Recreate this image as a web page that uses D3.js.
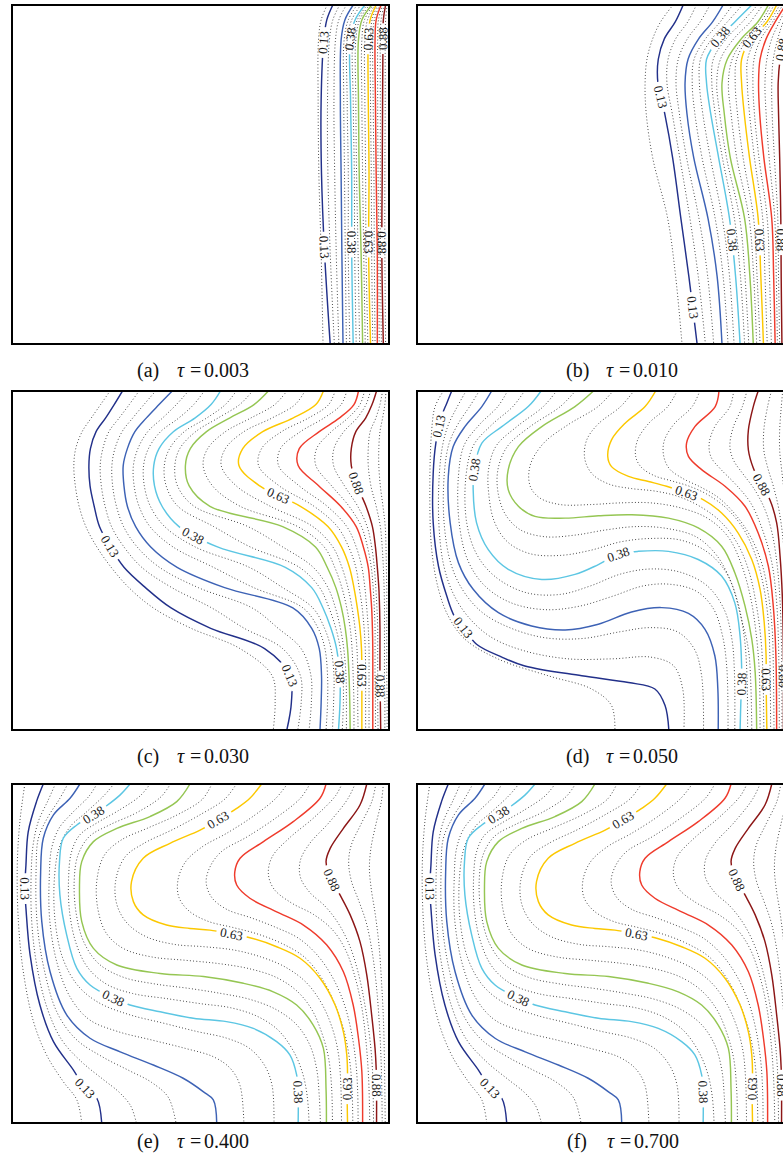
<!DOCTYPE html>
<html><head><meta charset="utf-8">
<script src="https://cdn.jsdelivr.net/npm/d3@7"></script>
<style>body{margin:0;background:#fff}svg{display:block}</style>
</head><body>
<svg id="fig" width="783" height="1158"></svg>
<script>
// ---------- Shared categories ----------
const panelIds   = ['a','b','c','d','e','f'];
const panelTaus  = ['0.003','0.010','0.030','0.050','0.400','0.700'];
const panelLeft  = [12, 417, 12, 417, 12, 417];
const panelTop   = [5, 5, 391, 391, 784, 784];
const captionBase= [377, 377, 763, 763, 1148, 1148];
const captionOff = [125, 149, 125, 149, 125, 150];
const solidLevels = [0.125, 0.25, 0.375, 0.5, 0.625, 0.75, 0.875];
const levelColors = ['#22308a', '#3d62b5', '#5cc6e3', '#95c653', '#fcc800', '#ef3b2c', '#8c1616'];

// ---------- Panel (a): X (% of width) at shared Y (% from top) ----------
const aY = [0, 4.4, 10.3, 28, 50, 73, 100];
const aSolid = [
 [0.125,[85.1,83.5,82.7,82.0,82.1,82.9,84.4]],
 [0.25, [90.5,88.3,87.3,87.1,87.3,87.5,87.8]],
 [0.375,[93.6,91.0,89.7,89.8,90.1,90.1,90.5]],
 [0.5,  [95.4,92.8,91.9,91.9,92.1,92.6,93.0]],
 [0.625,[96.6,95.0,94.5,94.5,94.7,94.6,95.1]],
 [0.75, [97.9,96.6,96.3,96.4,96.6,96.9,96.9]],
 [0.875,[99.1,98.5,98.4,98.3,98.2,98.1,98.5]]];
const aDotted = [
 [0.083,[83.6,82.0,81.3,81.2,81.4,82.0,82.5]],
 [0.167,[86.9,85.1,84.2,83.7,83.8,84.4,85.5]],
 [0.208,[88.7,86.7,85.8,85.4,85.6,86.0,86.7]],
 [0.292,[91.5,89.2,88.1,88.0,88.2,88.4,88.7]],
 [0.333,[92.5,90.1,88.9,88.9,89.2,89.2,89.6]],
 [0.417,[94.2,91.6,90.4,90.5,90.8,90.9,91.3]],
 [0.458,[94.8,92.2,91.2,91.2,91.4,91.8,92.2]],
 [0.542,[95.8,93.5,92.8,92.8,93.0,93.3,93.7]],
 [0.583,[96.2,94.3,93.6,93.6,93.8,93.9,94.4]],
 [0.667,[97.0,95.5,95.1,95.1,95.3,95.4,95.7]],
 [0.708,[97.5,96.1,95.7,95.8,96.0,96.1,96.3]],
 [0.792,[98.3,97.2,97.0,97.0,97.1,97.3,97.4]],
 [0.833,[98.7,97.9,97.7,97.7,97.7,97.7,98.0]],
 [0.917,[99.5,99.1,99.0,99.0,98.9,98.9,99.1]]];
const aLabels = [[0.125,82.6,11],[0.125,83.0,71.4],[0.375,89.7,10],[0.375,90.1,70],
 [0.625,94.5,10],[0.625,94.6,70],[0.875,98.4,10],[0.875,98.1,70]];

// ---------- Panel (b) ----------
const bY = [0, 5, 10, 16, 23, 32, 45, 63, 80, 100];
const bSolid = [
 [0.125,[70.6,68.5,65.6,64.0,63.9,65.7,67.8,70.0,72.1,74.3]],
 [0.25, [81.2,78.4,74.7,71.9,71.1,71.6,73.4,77.2,79.6,80.9]],
 [0.375,[88.8,84.3,80.0,76.8,76.8,77.9,80.0,82.9,84.5,85.7]],
 [0.5,  [93.2,90.4,86.0,82.3,80.9,81.5,83.1,86.9,88.3,89.2]],
 [0.625,[95.4,92.8,88.5,86.1,86.1,86.8,88.2,90.5,91.2,91.9]],
 [0.75, [97.8,95.0,92.6,91.0,90.6,90.9,92.0,94.1,94.6,95.0]],
 [0.875,[99.5,98.2,97.2,96.3,95.8,95.9,96.2,96.5,96.6,96.8]]];
const bDotted = [
 [0.083,[67.9,64.6,62.5,61.0,60.5,60.8,62.5,66.5,68.6,70.3]],
 [0.167,[74.1,71.8,68.6,66.6,66.3,67.7,69.7,72.4,74.6,76.5]],
 [0.208,[77.7,75.1,71.7,69.3,68.7,69.6,71.5,74.8,77.1,78.7]],
 [0.292,[83.7,80.4,76.5,73.5,73.0,73.7,75.6,79.1,81.2,82.5]],
 [0.333,[86.3,82.3,78.2,75.2,74.9,75.8,77.8,81.0,82.9,84.1]],
 [0.417,[90.3,86.3,82.0,78.6,78.2,79.1,81.0,84.2,85.8,86.9]],
 [0.458,[91.7,88.4,84.0,80.5,79.5,80.3,82.1,85.6,87.0,88.0]],
 [0.542,[93.9,91.2,86.8,83.6,82.6,83.3,84.8,88.1,89.3,90.1]],
 [0.583,[94.7,92.0,87.7,84.8,84.4,85.0,86.5,89.3,90.2,91.0]],
 [0.667,[96.2,93.5,89.9,87.7,87.6,88.2,89.5,91.7,92.3,92.9]],
 [0.708,[97.0,94.3,91.2,89.4,89.1,89.5,90.7,92.9,93.5,94.0]],
 [0.792,[98.4,96.1,94.1,92.8,92.3,92.6,93.4,94.9,95.3,95.6]],
 [0.833,[98.9,97.1,95.7,94.5,94.1,94.2,94.8,95.7,95.9,96.2]],
 [0.917,[99.8,99.0,98.4,97.8,97.5,97.6,97.8,98.0,98.1,98.3]]];
const bLabels = [[0.125,65.0,27.1],[0.125,73.2,89.1],[0.375,80.4,9.3],[0.375,83.0,69.3],
 [0.625,88.8,9.5],[0.625,90.5,69.3],[0.875,96.3,13],[0.875,96.4,69.3]];

// ---------- Panel (c) ----------
const cY = [0,4,8,12,17,22,28,34,40,46,52,58,64,70,76,84,92,100];
const cSolid = [
 [0.125,[29.3,27.1,24.8,22.3,20.8,20.4,20.7,21.8,23.2,26.1,29.7,35.4,42.2,52.7,67.0,73.7,74.1,72.9]],
 [0.25, [42.5,39.0,35.6,32.6,30.6,29.5,29.7,30.6,32.8,36.8,43.8,56.4,74.5,79.5,81.5,82.1,82.0,81.7]],
 [0.375,[55.3,52.8,48.5,42.8,39.0,37.6,37.8,39.8,44.3,54.5,72.5,79.5,82.5,84.6,86.1,87.0,87.0,86.6]],
 [0.5,  [68.0,64.2,57.7,51.6,47.3,46.0,47.0,52.5,71.8,80.5,83.6,85.9,87.4,88.4,89.0,89.4,89.6,89.7]],
 [0.625,[82.6,80.6,74.5,66.5,61.2,60.2,65.7,76.5,83.8,87.4,89.5,90.7,91.6,92.3,92.7,92.8,92.8,92.8]],
 [0.75, [91.9,90.7,86.8,81.5,76.2,75.9,81.4,87.2,91.3,93.2,94.5,95.0,95.4,95.6,95.7,95.7,95.7,95.7]],
 [0.875,[96.7,95.5,93.8,91.2,90.0,90.0,91.6,93.9,95.6,96.4,96.9,97.3,97.5,97.6,97.6,97.6,97.7,97.8]]];
const cDotted = [
 [0.083,[26.0,23.5,21.0,18.6,16.9,16.4,16.8,17.8,19.6,22.5,26.3,31.0,37.5,47.5,60.5,69.0,69.8,69.3]],
 [0.167,[33.7,31.1,28.4,25.7,24.1,23.4,23.7,24.7,26.4,29.7,34.4,42.4,53.0,61.6,71.8,76.5,76.7,75.8]],
 [0.208,[38.1,35.0,32.0,29.2,27.3,26.5,26.7,27.7,29.6,33.2,39.1,49.4,63.7,70.6,76.7,79.3,79.4,78.8]],
 [0.292,[46.8,43.6,39.9,36.0,33.4,32.2,32.4,33.7,36.6,42.7,53.4,64.1,77.2,81.2,83.0,83.7,83.7,83.3]],
 [0.333,[51.0,48.2,44.2,39.4,36.2,34.9,35.1,36.7,40.5,48.6,62.9,71.8,79.8,82.9,84.6,85.4,85.3,85.0]],
 [0.417,[59.5,56.6,51.6,45.7,41.8,40.4,40.9,44.0,53.5,63.2,76.2,81.6,84.1,85.9,87.1,87.8,87.9,87.6]],
 [0.458,[63.8,60.4,54.6,48.7,44.5,43.2,43.9,48.3,62.6,71.8,79.9,83.8,85.8,87.1,88.0,88.6,88.7,88.7]],
 [0.542,[72.9,69.7,63.3,56.6,51.9,50.7,53.2,60.5,75.8,82.8,85.6,87.5,88.8,89.7,90.2,90.5,90.7,90.7]],
 [0.583,[77.7,75.1,68.9,61.5,56.6,55.5,59.5,68.5,79.8,85.1,87.5,89.1,90.2,91.0,91.5,91.7,91.7,91.8]],
 [0.667,[85.7,84.0,78.6,71.5,66.2,65.4,70.9,80.1,86.3,89.3,91.2,92.1,92.9,93.4,93.7,93.8,93.8,93.8]],
 [0.708,[88.8,87.3,82.7,76.5,71.2,70.7,76.2,83.6,88.8,91.3,92.8,93.6,94.1,94.5,94.7,94.7,94.7,94.7]],
 [0.792,[93.5,92.3,89.1,84.7,80.8,80.6,84.8,89.4,92.7,94.3,95.3,95.8,96.1,96.3,96.3,96.3,96.4,96.4]],
 [0.833,[95.1,93.9,91.5,88.0,85.4,85.3,88.2,91.7,94.2,95.4,96.1,96.5,96.8,97.0,97.0,97.0,97.0,97.1]],
 [0.917,[98.3,97.6,96.5,95.0,94.5,94.5,95.2,96.6,97.7,98.2,98.5,98.7,98.8,98.8,98.8,98.8,98.9,98.9]],
 [0.958,[99.2,98.9,98.3,97.6,97.3,97.3,97.7,98.4,99.0,99.2,99.3,99.4,99.4,99.4,99.4,99.4,99.5,99.5]]];
const cLabels = [[0.125,26.0,45.8],[0.125,73.7,84.0],[0.375,48.1,42.8],[0.375,87.0,83.0],
 [0.625,70.6,31.1],[0.625,92.8,84.0],[0.875,91.4,27.2],[0.875,97.6,87.0]];

// ---------- Panel (d): flat (x, y) pairs ----------
const dSolid = [
 [0.125,[9.2,0,7.9,3.6,6.5,7.5,5.0,15.4,4.3,24.2,4.3,38.9,5.7,51.7,7.9,60.5,9.9,66.4,12.3,69.8,15.8,74.7,22.5,78.5,28.6,81.1,43.7,84,56.1,86,63.1,87.9,65.8,92.8,66.8,100]],
 [0.25,[19.8,0,17.2,4.6,12.7,10.5,9.6,16.4,8.3,25.2,8.8,38.9,11.0,50.7,14.9,58.5,21.6,65.4,30.4,69.3,39.3,70.5,48.1,68.8,56.9,65.2,64.9,63.9,72,65.6,76.4,70.3,79,78.1,79.8,87.9,79.9,100]],
 [0.375,[32.9,0,29.5,4.6,22.5,10.5,17.2,15.4,15.2,23.2,14.9,29.1,15.8,38.9,18.9,46.8,24.2,52.6,33.1,55.6,41.9,54.1,48.1,51.2,53.4,48.2,58.7,47.3,66.7,47.3,74.6,49.7,80.8,54.6,84.3,62.5,85.7,72.3,86.1,81.1,86.1,86.5,85.9,91.9,85.7,100]],
 [0.5,[46.8,0,41.9,4.6,33.1,10.5,26.9,16.4,24.2,23.2,24.2,29.1,26.9,34,31.3,37,39.3,37.5,48.1,36.8,57,36.5,66.7,37.5,74.6,40.4,80.8,45.8,84.3,53.6,87,63.4,88.8,73.2,89.7,83,90.1,100]],
 [0.625,[63.3,0,60.5,4.6,55.2,9.5,51.6,14.4,50.6,19.3,51.6,22.3,56.1,25.2,61.4,26.7,66.2,28.1,71.5,30.1,76,32.1,80.8,36,85.2,41.9,88.8,49.7,91,58.5,92.1,68.3,92.6,78.1,92.6,85,92.8,100]],
 [0.75,[80.1,0,79.1,4.6,73.7,10.5,71.5,15.4,72,19.3,75.5,23.2,81.7,28.1,87,34,90.5,41.9,93.2,51.7,94.5,63.4,95.2,78.1,95.4,100]],
 [0.875,[90.5,0,89.2,4.6,87.9,11.5,87.9,17.4,89.2,22.7,91.4,27.6,93.6,32.1,95.4,38.9,96.3,48.7,96.9,60.5,97.2,78.1,97.2,100]]];
const dDotted = [
 [0.083,[7,0,4.8,4.6,3.9,11.5,3.4,29.1,3.9,46.8,5.7,58.5,8.3,66.4,12.7,73.2,21.6,79.1,34.8,84,46.3,87.9,51.6,92.8,52.5,100]],
 [0.167,[13,0,10.5,5,8.3,10,6.8,16,5.9,25,5.8,39,7,51,9.5,59.5,13.5,66.5,19.5,72.5,28,76.5,40,79,52,79,62,78.5,68,81,70.5,88,70.8,100]],
 [0.208,[16.5,0,14,4.5,11,9.5,8.5,15.5,7.2,25,7.2,39,9,51,12.3,59,17.5,65.5,25,70,34,72.8,44,73,54,71,62,69.8,69,71,73.5,76,75.5,84,76,100]],
 [0.292,[24,0,21.5,4.5,16.5,10,12.5,16,11,25,11.2,39,13.5,50,18,57.5,25,62.5,34,64.5,43,63.5,52,60.5,60,57.5,67,57,74,59,78.5,64,81,72,82.2,82,82.5,100]],
 [0.333,[28.5,0,25.5,4.5,19.8,10,15,16,13,25,13.2,39,16,48.5,21,55,29,59.5,38,60,46,57.5,54,54,62,52.5,70,53.5,77,57.5,81.5,64.5,83.5,73,84.2,83,84.3,100]],
 [0.417,[37,0,33.5,4.6,26.5,10.5,21,16.2,19,23,19,30,20.5,38.5,24,44.5,30,48,38,48.5,46,47,54,44.5,62,43.5,70,44,77,47.5,82,53.5,85,62,86.8,72.5,87.5,83,87.7,100]],
 [0.458,[42,0,38,4.6,30,10.5,24,16.3,21.5,23,21.5,30,23.5,36.5,27.5,41,34,43,42,42.5,50,41,58,40,66,40.5,74,43,79.5,48.5,83.5,57,86,67,88,77,88.8,100]],
 [0.542,[52,0,48,4.6,40,10,33.5,15.5,30,22,30,28,32.5,31.5,38,33.5,46,33.5,54,33,62,33,70,34.5,77,37.5,82.5,43,86,51,88.5,61,90,72,90.8,83,91,100]],
 [0.583,[57.5,0,54,4.6,48,9.8,45,14.5,44.5,20,46.5,24.5,51,27.5,57,28.8,63,29.5,69,31,75,34,80.5,38.5,85,45,88,53,90,63,91.3,74,91.8,85,92,100]],
 [0.667,[69,0,66.5,4.6,61.5,9.5,58.5,14.5,58,19.3,59.5,22.5,63,25,67.5,26.5,72,28,77,30.5,82,34.5,86.5,40.5,89.8,48.5,92,58,93.2,68,93.6,78,93.8,100]],
 [0.708,[75,0,73,4.6,68,10,65.5,15,65.5,19.5,67,23,70.5,25.8,75.5,28.5,80,31.5,84.5,36.5,88.5,43,91.5,51,93.2,60,94.2,70,94.5,80,94.7,100]],
 [0.792,[84,0,83,4.6,79,10.5,77.5,15.5,78,19.5,80.5,23,84.5,27.5,88.5,33,91.5,40.5,94,50,95.3,61,95.9,75,96.1,100]],
 [0.833,[87.5,0,86.3,4.6,83.8,11,83,16.5,84,20.5,86.5,24.5,89.5,29,92.3,35,94.2,42,95.5,51,96.3,62,96.7,76,96.8,100]],
 [0.917,[94,0,93,4.6,92,11.5,92,17.5,93,22.5,94.5,28,96,35,97.2,45,97.8,58,98.1,75,98.2,100]],
 [0.958,[97,0,96.6,5,96.2,11.5,96.2,17.5,96.7,23,97.4,30,98.2,40,98.7,55,98.9,100]]];
const dLabels = [[0.125,6.1,10.5],[0.125,12.3,69.8],[0.375,15.2,23.2],[0.375,53.4,48.2],[0.375,86.1,86.5],
 [0.625,71.5,30.1],[0.625,92.6,85],[0.875,91.4,27.6],[0.875,97.2,84]];

// ---------- Panel (e) (steady state; panel (f) reads the same) ----------
const eSolid = [
 [0.125,[8.3,0,6.5,5.2,4.3,14.1,3.7,23.9,3.4,30.8,3.7,36.7,4.8,50.4,7.4,65.2,11.0,76,16.3,84.4,19.4,89.8,22.5,92.7,23.8,100]],
 [0.25,[18,0,15.4,4.2,11,9.1,8.3,16,7.6,25.9,7.9,40.6,10.1,55.4,14.5,68.1,20.7,75,28.7,79,37.5,82.9,45.4,86.8,50.8,90.8,53.4,93.2,54.3,100]],
 [0.375,[31.3,0,28.7,3.2,25,6.5,21.6,9.1,17.2,12.1,13.6,16,12.6,22.9,12.7,32.7,14.5,44.5,17.2,54.4,20.7,59.3,26.9,63.2,31.3,65.2,39.3,67.2,48.1,69.1,56.9,70.1,64,72.1,70.2,76,73.7,79.9,75.5,85.8,75.9,90.8,75.9,100]],
 [0.5,[47.2,0,43.7,5.2,36.6,9.6,27.8,13.1,21.6,17,18.5,22.9,17.9,30.8,18.5,40.6,21.6,48.5,27.8,53.4,39.3,55.9,50.8,56.8,61.4,58.8,69.3,61.3,75.5,65.2,79.9,71.1,82.6,78,83.3,90,83.4,100]],
 [0.625,[66.2,0,63.1,4.2,59.6,7.2,54.7,10.6,49.9,13.6,41.9,17.5,34.8,21.9,31.7,28.8,32.2,34.7,34.8,38.6,41,41.6,47.2,42.6,52.5,43.1,58.3,44.3,63.6,45.5,70.2,48,76.4,51.4,81.7,57.3,85.7,65.2,87.9,73.1,88.8,79.9,89,85.8,88.9,89.8,89,100]],
 [0.75,[83.3,0,81.7,4.2,74.6,11.1,66.7,17,60.5,21.9,59.1,25.9,59.6,29.8,63.1,33.7,70.2,37.7,77.3,41.6,83.5,47.5,87.9,55.4,90.5,65.2,91.9,75,92.8,84.9,93,100]],
 [0.875,[94.1,0,92.3,6.2,87.9,13.1,84.4,19,83.3,22.9,84.8,28.3,87,32.7,89.7,38.6,92.3,46.5,94.1,56.3,95.4,68.1,96.3,78,96.6,83.9,96.7,88.8,96.7,100]]];
const eDotted = [
 [0.083,[3.4,0,2.1,11,1.4,24,1.7,40.6,3,55.4,5.7,70.1,9.2,80,13.6,87.8,17.2,93.2,18.5,100]],
 [0.167,[11.5,0,9.5,5,7,11,5.6,18,5.1,26,5.2,40,6.5,53,9.3,66,13.2,75.5,18.5,82,24,87,28.5,91,31.5,95,33,100]],
 [0.208,[14.8,0,12.5,4.6,9.5,9.8,7,16,6.4,25,6.6,40,8.4,54,12,67.5,17,75.3,24,80.5,31,84.5,37,88,41.5,92.5,43.5,100]],
 [0.292,[22.5,0,20.5,3.5,16,8.5,12.5,13,10.5,19,9.9,27,10,40,12,53,15.5,63,20.5,69.5,28,73,37,75.5,46,78,53.5,80.5,58,84,60.5,89,61.5,100]],
 [0.333,[27,0,24.5,3.3,19.5,8.5,15.5,12.5,12.6,18.5,11.3,27,11.4,40,13.5,51.5,17.5,59.5,23,64.5,31,68,40,70.5,49,73,57,75,63,78,67,83,69,89,69.5,100]],
 [0.417,[36.6,0,34,3.5,28,8,22.5,11.5,18,15,15.8,20,15,28,15.3,38,17,47,20,54,25,59,32,61.8,41,63.3,50,64.8,58,66,65,68.5,70.5,72.5,74.5,78.5,77,85,78.3,92,78.8,100]],
 [0.458,[42,0,39.5,3.8,33,8.5,26,12,20.5,15.5,17.5,21,16.5,28.5,17,38,19,46.5,23,53,29.5,57,38,59,47,60.3,55.5,61.8,63,63.5,70,66.5,75.5,71,79,77,80.8,84,81.5,92,81.8,100]],
 [0.542,[53,0,50.5,4.5,44,9,36,13,29,16.5,24.5,21,22.5,28.5,22.8,37,25,44,29.5,48.5,37,51,46,52,55,53,63,54.5,70,57,75.5,61,79.5,66.5,82.2,73.5,84,81,84.8,90,85,100]],
 [0.583,[59.5,0,56.5,4.4,50,9,42.5,13.5,35,17.5,30,21.5,27.5,28.5,27.8,35.5,30.5,41,35.5,45,43,47.3,51,48,59,49,66,51,72.5,54,78,58.5,82,64.5,84.8,71.5,86.5,79,87.2,88,87.4,100]],
 [0.667,[73,0,70,4.2,64,9.5,57,14.5,50.5,18.5,46,23,44,28.5,44.3,33.5,47,37.5,52,40.5,58.5,42.3,65,44.2,71.5,47,77.5,51,82,57,85.5,64.5,88,72.5,89.5,81,90.2,90,90.4,100]],
 [0.708,[79,0,76.5,4.2,70,10,62.5,15.5,55.5,20,52.5,24.5,51.5,29,53,33.5,57,37,63.5,39.5,70,42.3,76,45.5,81,50.5,85,57,88,64.5,90,73,91.2,82,91.7,91,91.8,100]],
 [0.792,[87.5,0,85.8,3.5,80,10,73.5,16,69,21.5,68,26.5,69.5,31,74,35,80,38.5,85,43,88.5,49,91,57,92.8,66,93.9,76,94.6,87,94.9,100]],
 [0.833,[91,0,89,4.5,84,11.5,79,17.5,76.5,22.5,76.5,27.5,79,32,83,36,86.5,41,89.5,47.5,91.8,55.5,93.5,64.5,94.8,74,95.6,84,95.9,100]],
 [0.917,[96.5,0,95.5,5,92.5,12,90,18,89.3,23,90,28.5,92,34.5,94,41,95.6,50,96.7,60,97.5,72,98,85,98.2,100]],
 [0.958,[98.5,0,98,5,96.5,12,95.2,19,94.8,25,95.3,31,96.3,38,97.3,47,98,58,98.6,72,99,100]]];
const eLabels = [[0.125,3.4,30.8],[0.125,19.4,89.8],[0.375,21.6,9.1],[0.375,26.9,63.2],[0.375,75.9,90.8],
 [0.625,54.7,10.6],[0.625,58.3,44.3],[0.625,88.9,89.8],[0.875,84.8,28.3],[0.875,96.7,88.8]];
const fSolid = eSolid, fDotted = eDotted, fLabels = eLabels;

// ---------- Build panels ----------
const panelData = [
  {ys:aY, solid:aSolid, dotted:aDotted, labels:aLabels},
  {ys:bY, solid:bSolid, dotted:bDotted, labels:bLabels},
  {ys:cY, solid:cSolid, dotted:cDotted, labels:cLabels},
  {ys:null, solid:dSolid, dotted:dDotted, labels:dLabels},
  {ys:null, solid:eSolid, dotted:eDotted, labels:eLabels},
  {ys:null, solid:fSolid, dotted:fDotted, labels:fLabels}
];

const W = 377, H = 339;
const sx = d3.scaleLinear().domain([0,100]).range([0,W]);
const sy = d3.scaleLinear().domain([0,100]).range([0,H]);
const color = d3.scaleOrdinal().domain(solidLevels).range(levelColors);
const lineGen = d3.line().x(d=>sx(d[0])).y(d=>sy(d[1])).curve(d3.curveCatmullRom.alpha(0.5));
const fmt = d3.format('.2f');

function toPts(arr, ys){
  if (ys) return arr.map((v,i)=>[v, ys[i]]);
  const p=[]; for(let i=0;i<arr.length;i+=2) p.push([arr[i],arr[i+1]]); return p;
}
function locate(node, px, py){
  const L = node.getTotalLength(); let best=0, bd=Infinity;
  for(let l=0;l<=L;l+=0.75){const p=node.getPointAtLength(l);const d=(p.x-px)**2+(p.y-py)**2;if(d<bd){bd=d;best=l;}}
  const p=node.getPointAtLength(best);
  const p1=node.getPointAtLength(Math.max(0,best-5)), p2=node.getPointAtLength(Math.min(L,best+5));
  let a=Math.atan2(p2.y-p1.y,p2.x-p1.x)*180/Math.PI;
  if(a>90)a-=180; if(a<=-90)a+=180;
  return {x:p.x,y:p.y,a};
}

const svg = d3.select('#fig');
const defs = svg.append('defs');

panelIds.forEach((id,i)=>{
  const P = panelData[i];
  const g = svg.append('g').attr('transform',`translate(${panelLeft[i]},${panelTop[i]})`);
  defs.append('clipPath').attr('id','clip-'+id).append('rect').attr('width',W).attr('height',H);
  const content = g.append('g').attr('clip-path',`url(#clip-${id})`);

  P.dotted.forEach(l=>{
    content.append('path').attr('d',lineGen(toPts(l[1],P.ys)))
      .attr('fill','none').attr('stroke','#222').attr('stroke-width',0.9)
      .attr('stroke-dasharray','0.9,2.3');
  });
  const paths = {};
  P.solid.forEach(l=>{
    paths[l[0]] = content.append('path').attr('d',lineGen(toPts(l[1],P.ys)))
      .attr('fill','none').attr('stroke',color(l[0])).attr('stroke-width',1.45);
  });

  const labG = content.append('g');
  const byLevel = d3.group(P.labels, d=>d[0]);
  byLevel.forEach((labs, lv)=>{
    const node = paths[lv].node();
    const mid = `m-${id}-${String(lv).replace('.','_')}`;
    const mask = defs.append('mask').attr('id',mid)
      .attr('maskUnits','userSpaceOnUse').attr('x',-20).attr('y',-20).attr('width',W+40).attr('height',H+40);
    mask.append('rect').attr('x',-20).attr('y',-20).attr('width',W+40).attr('height',H+40).attr('fill','#fff');
    labs.forEach(lb=>{
      const pos = locate(node, sx(lb[1]), sy(lb[2]));
      const t = labG.append('text').text(fmt(lv))
        .attr('transform',`translate(${pos.x},${pos.y}) rotate(${pos.a})`)
        .attr('text-anchor','middle').attr('dy','0.34em')
        .attr('font-family','Liberation Serif, serif').attr('font-size',13).attr('fill','#1a1a1a');
      const tw = t.node().getComputedTextLength();
      mask.append('rect').attr('x',-tw/2-4).attr('y',-4.5).attr('width',tw+8).attr('height',9)
        .attr('transform',`translate(${pos.x},${pos.y}) rotate(${pos.a})`).attr('fill','#000');
    });
    paths[lv].attr('mask',`url(#${mid})`);
  });

  g.append('rect').attr('width',W).attr('height',H).attr('fill','none')
    .attr('stroke','#000').attr('stroke-width',2);

  // caption
  const cx = panelLeft[i] + captionOff[i], cb = captionBase[i];
  const cap = svg.append('g').attr('font-family','Liberation Serif, serif').attr('font-size',20).attr('fill','#111');
  cap.append('text').attr('x',cx).attr('y',cb).text(`(${id})`);
  cap.append('text').attr('x',cx+40).attr('y',cb).attr('font-style','italic').text('τ');
  cap.append('text').attr('x',cx+53).attr('y',cb).text('=');
  cap.append('text').attr('x',cx+67).attr('y',cb).text(panelTaus[i]);
});
</script>
</body></html>
